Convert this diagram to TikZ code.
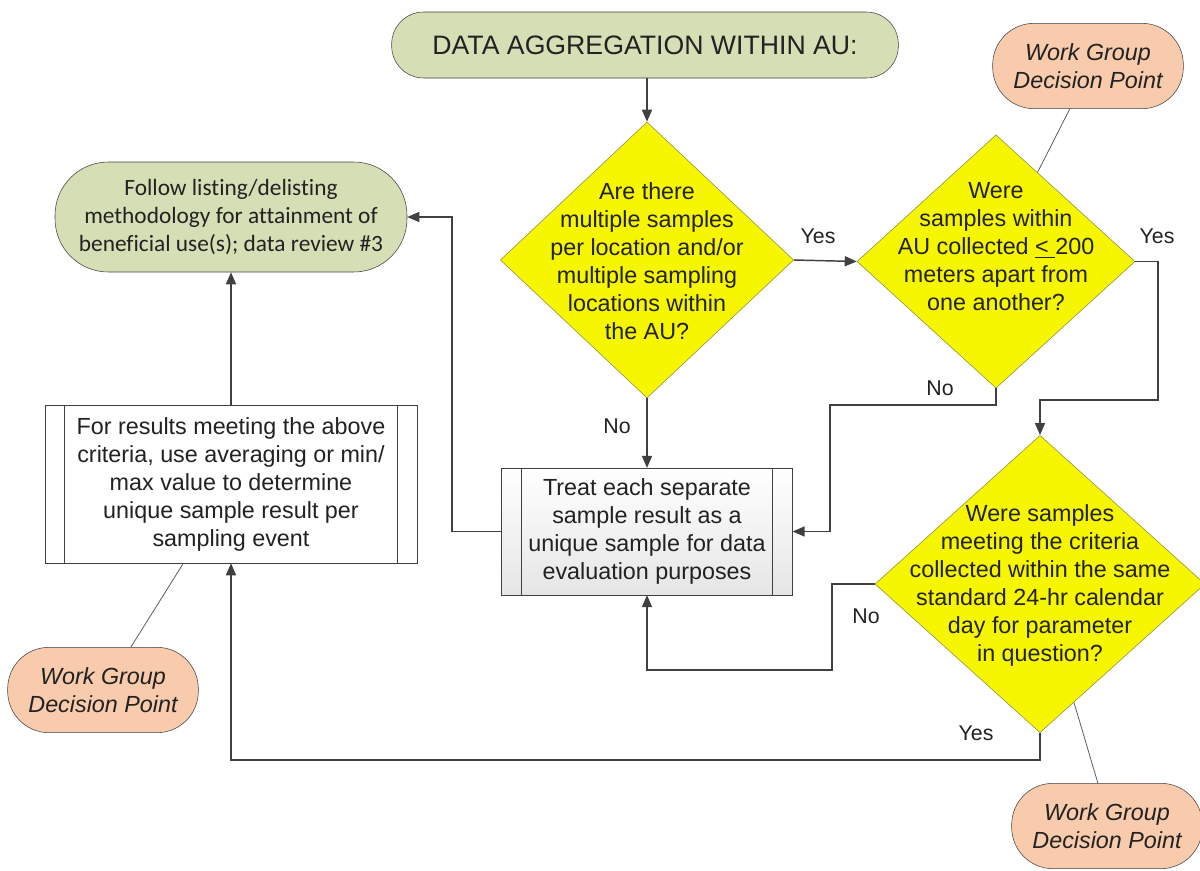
\documentclass[tikz,border=0pt]{standalone}
\usepackage{fontspec}
\setmainfont{Liberation Sans}
\newfontfamily\calibri[Ligatures=NoCommon]{Carlito}
\usetikzlibrary{shapes.geometric,arrows.meta}
\definecolor{ink}{HTML}{222222}
\definecolor{wire}{HTML}{404040}
\definecolor{term}{HTML}{D5DEB5}
\definecolor{peach}{HTML}{F7CBAC}
\definecolor{ask}{HTML}{F6F600}
\definecolor{askline}{HTML}{8A8A40}

\begin{document}
\begin{tikzpicture}[x=0.75pt, y=-0.75pt, text=ink,
    font=\fontsize{17.5pt}{21pt}\selectfont,
    startbox/.style={draw=wire, fill=term, rounded corners=24pt, minimum width=380pt, minimum height=49.5pt, inner sep=0pt, font=\fontsize{20pt}{24pt}\selectfont},
    endbox/.style={draw=wire, fill=term, rounded corners=40pt, minimum width=264pt, minimum height=82.5pt, inner sep=0pt, align=center, font=\calibri\fontsize{17.5pt}{21pt}\selectfont},
    wgroup/.style={draw=wire, fill=peach, rounded corners=31pt, minimum width=143pt, minimum height=64pt, inner sep=0pt, align=center, font=\itshape\fontsize{17.5pt}{21pt}\selectfont},
    ask/.style={diamond, draw=askline, fill=ask, inner sep=0pt},
    subproc/.style={draw=wire, inner sep=0pt, align=center},
    flow/.style={wire, line width=1.1pt, -{Triangle[length=9pt,width=7.5pt]}},
    note/.style={wire!85, line width=0.6pt},
    lbl/.style={font=\fontsize{16pt}{19pt}\selectfont}]

  \useasboundingbox (0,0) rectangle (1200,871);

  % start
  \node[startbox] (start) at (645,45) {DATA AGGREGATION WITHIN AU:};

  % decisions
  \node[ask, minimum width=220pt, minimum height=207pt] (d1) at (647,260) {};
  \node[align=center] (d1t) at (647,261) {Are there\\multiple samples\\per location and/or\\multiple sampling\\locations within\\the AU?};

  \node[ask, minimum width=208.5pt, minimum height=190pt] (d2) at (996,261.5) {};
  \node[align=center] (d2t) at (996,247) {Were\\samples within\\AU collected \underline{<~}200\\meters apart from\\one another?};

  \node[ask, minimum width=247.5pt, minimum height=223pt] (d3) at (1040,584) {};
  \node[align=center] (d3t) at (1040,585) {Were samples\\meeting the criteria\\collected within the same\\standard 24-hr calendar\\day for parameter\\in question?};

  % process boxes
  \node[subproc, fill=white, minimum width=279pt, minimum height=118.5pt] (lbox) at (231,484)
    {For results meeting the above\\criteria, use averaging or min/\\max value to determine\\unique sample result per\\sampling event};
  \draw[wire] ([xshift=15pt]lbox.north west) -- ([xshift=15pt]lbox.south west);
  \draw[wire] ([xshift=-15pt]lbox.north east) -- ([xshift=-15pt]lbox.south east);

  \node[subproc, top color=white, bottom color=black!10, minimum width=218pt, minimum height=95pt] (mid) at (647,531.5)
    {Treat each separate\\sample result as a\\unique sample for data\\evaluation purposes};
  \draw[wire] ([xshift=15pt]mid.north west) -- ([xshift=15pt]mid.south west);
  \draw[wire] ([xshift=-15pt]mid.north east) -- ([xshift=-15pt]mid.south east);

  % end
  \node[endbox] (goal) at (231,217) {Follow listing/delisting\\methodology for attainment of\\beneficial use(s); data review \#3};

  % work group points
  \node[wgroup] (wg1) at (1088,66) {Work Group\\Decision Point};
  \node[wgroup] (wg2) at (103,690) {Work Group\\Decision Point};
  \node[wgroup] (wg3) at (1107,826) {Work Group\\Decision Point};
  \draw[note] (wg1.247) -- (d2.65);
  \draw[note] (wg2.57) -- (lbox.239);
  \draw[note] (wg3.102) -- (d3.286);

  % arrows
  \draw[flow] (start.south -| d1.north) -- (d1.north);
  \draw[flow] (d1.east) -- (d2.west);
  \draw[flow] (d1.south) -- (mid.north);
  \draw[flow] (d2.east) -| (1158,400) -| (d3.north);
  \draw[flow] (d2.south) |- (830,405) |- (mid.east);
  \draw[flow] (d3.west) -| (832,670) -| (mid.south);
  \draw[flow] (d3.south) |- (600,760) -| (lbox.south);
  \draw[flow] (mid.west) -| (452,217) -- (goal.east);
  \draw[flow] (lbox.north) -- (goal.south);

  % answers
  \node[lbl] (yes1) at (818,236) {Yes};
  \node[lbl] (yes2) at (1157,236) {Yes};
  \node[lbl] (no1) at (617,426) {No};
  \node[lbl] (no2) at (940,388) {No};
  \node[lbl] (no3) at (866,616) {No};
  \node[lbl] (yes3) at (976,733) {Yes};
\end{tikzpicture}
\end{document}
